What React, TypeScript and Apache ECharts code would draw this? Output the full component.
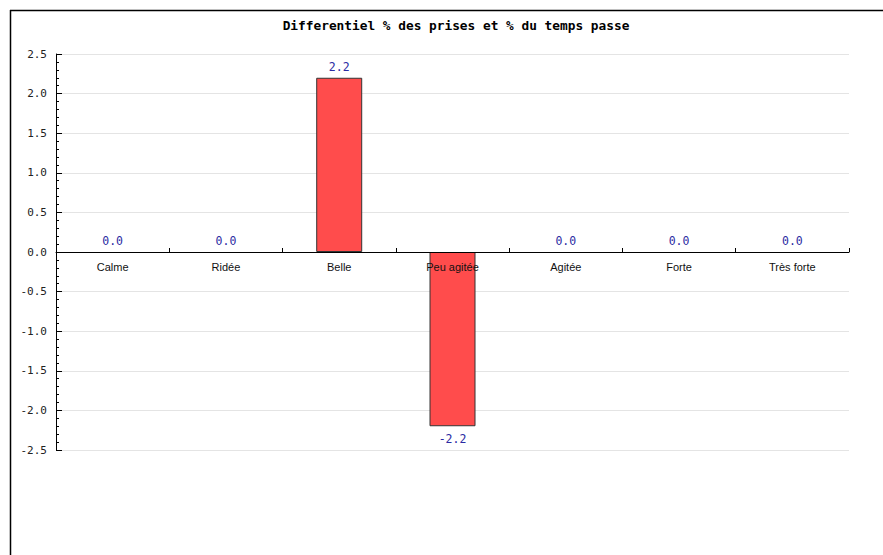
import React, { useEffect, useRef } from "react";
import * as echarts from "echarts";

const titleText = "Differentiel % des prises et % du temps passe";
const categories = ["Calme", "Ridée", "Belle", "Peu agitée", "Agitée", "Forte", "Très forte"];
const diffValues = [0.0, 0.0, 2.2, -2.2, 0.0, 0.0, 0.0];
const yMin = -2.5;
const yMax = 2.5;
const yStep = 0.5;

export default function App() {
  const ref = useRef<HTMLDivElement>(null);
  useEffect(() => {
    if (!ref.current) return;
    const chart = echarts.init(ref.current, undefined, { renderer: "svg" });
    const mono = "DejaVu Sans Mono";
    const gridTop = 54;
    const gridBottom = 105;
    const plotH = 555 - gridTop - gridBottom;
    // distance from plot bottom to the zero line (labels sit under the zero line)
    const zeroOffset = (plotH * (0 - yMin)) / (yMax - yMin);
    chart.setOption({
      animation: false,
      backgroundColor: "#ffffff",
      title: {
        text: titleText,
        left: 451,
        textAlign: "center",
        top: 14,
        textStyle: { fontFamily: mono, fontSize: 12.8, fontWeight: "bold", color: "#000" },
      },
      graphic: [
        { type: "line", shape: { x1: 10.5, y1: 10, x2: 10.5, y2: 555 }, style: { stroke: "#000", lineWidth: 1.5 } },
        { type: "line", shape: { x1: 10, y1: 10.5, x2: 883, y2: 10.5 }, style: { stroke: "#000", lineWidth: 1.5 } },
      ],
      grid: { left: 56, right: 34, top: gridTop, bottom: gridBottom, containLabel: false },
      xAxis: {
        type: "category",
        data: categories,
        z: 5,
        axisLine: { show: true, onZero: true, lineStyle: { color: "#000", width: 1 } },
        axisTick: { show: true, inside: true, length: 4, alignWithLabel: false, lineStyle: { color: "#000" } },
        axisLabel: { fontFamily: "Liberation Sans", fontSize: 11, color: "#111", margin: 9 - zeroOffset },
        splitLine: { show: false },
      },
      yAxis: {
        type: "value",
        min: yMin,
        max: yMax,
        interval: yStep,
        axisLine: { show: true, lineStyle: { color: "#000", width: 1 } },
        axisTick: { show: true, inside: true, length: 6, lineStyle: { color: "#000" } },
        minorTick: { show: true, splitNumber: 5, length: 3, lineStyle: { color: "#000" } },
        axisLabel: {
          fontFamily: mono,
          fontSize: 11,
          color: "#222",
          margin: 9,
          formatter: (v: number) => v.toFixed(1),
        },
        splitLine: { show: true, lineStyle: { color: "#e4e4e4", width: 1 } },
      },
      series: [
        {
          type: "bar",
          barWidth: 46,
          data: diffValues.map((v) => ({
            value: v,
            itemStyle: v === 0 ? { borderWidth: 0 } : undefined,
            label: v < 0 ? { position: "bottom", distance: 7 } : { position: "top" },
          })),
          itemStyle: { color: "#ff4c4c", borderColor: "#333", borderWidth: 1 },
          label: {
            show: true,
            distance: 5,
            fontFamily: mono,
            fontSize: 11.5,
            color: "#2b2ba3",
            formatter: (p: any) => Number(p.value).toFixed(1),
          },
        },
      ],
    });
    return () => chart.dispose();
  }, []);
  return (
    <div
      ref={ref}
      style={{ position: "fixed", left: 0, top: 0, width: 883, height: 555 }}
    />
  );
}
